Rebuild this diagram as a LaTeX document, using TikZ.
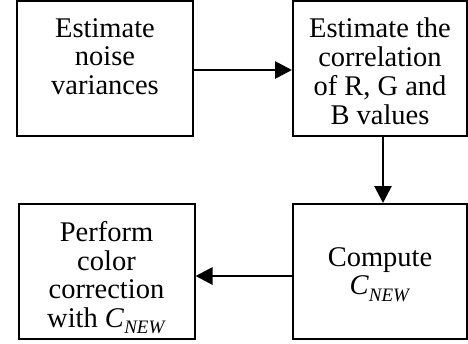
\documentclass[tikz,border=0pt]{standalone}
\usepackage{fontspec}
\setmainfont{Liberation Serif}
\usetikzlibrary{arrows.meta}

\newcommand{\cnew}{\textit{C}\raisebox{-0.22em}{\fontsize{19}{19}\selectfont\textit{NEW}}}

\tikzset{
  box/.style={draw, line width=2pt, inner sep=0pt},
  txt/.style={align=center, inner sep=0pt, font=\fontsize{28.5}{28.8}\selectfont},
  flow/.style={-{Triangle[length=17pt,width=17pt]}, line width=2.8pt}
}

\begin{document}
\begin{tikzpicture}[x=1pt,y=1pt]
    \useasboundingbox (0,0) rectangle (468,-343);
        % boxes
        \node[box, minimum width=176pt, minimum height=135pt] (noise) at (105,-68.5) {};
        \node[box, minimum width=174pt, minimum height=135pt] (corr) at (380,-68.5) {};
        \node[box, minimum width=176pt, minimum height=135pt] (perf) at (106.5,-271.5) {};
        \node[box, minimum width=174pt, minimum height=135pt] (comp) at (380,-271.5) {};
        % texts
        \node[txt, below] at ([yshift=-18pt]noise.north) {Estimate\\noise\\variances};
        \node[txt, below] at ([yshift=-18pt]corr.north) {Estimate the\\correlation\\of R, G and\\B values};
        \node[txt, below] at ([yshift=-18pt]perf.north) {Perform\\color\\correction\\with \cnew};
        \node[txt, below] at ([yshift=-44pt]comp.north) {Compute\\\cnew};
        % arrows
        \draw[flow] ([yshift=-1.5pt]noise.east) -- ([yshift=-1.5pt]corr.west);
        \draw[flow] ([xshift=3pt]corr.south) -- ([xshift=3pt]comp.north);
        \draw[flow] ([yshift=-4.5pt]comp.west) -- ([yshift=-4.5pt]perf.east);
    \end{tikzpicture}
\end{document}
